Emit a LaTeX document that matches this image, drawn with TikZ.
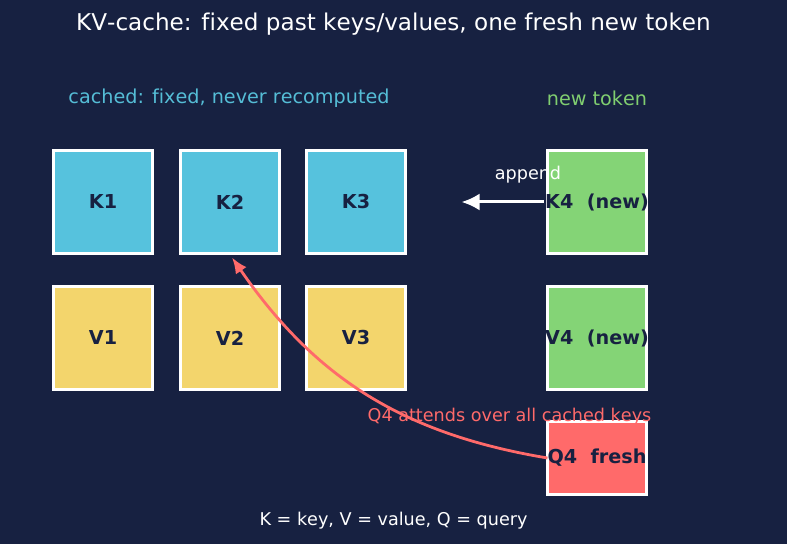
\documentclass[tikz,border=0pt]{standalone}
\usepackage{fontspec}
\setmainfont{DejaVu Sans}[Ligatures=NoCommon,Kerning=Off]
\usepackage{xcolor}
\usetikzlibrary{arrows.meta,positioning}
\definecolor{bgnavy}{HTML}{172141}
\definecolor{kfill}{HTML}{56C2DD}
\definecolor{vfill}{HTML}{F3D56C}
\definecolor{newfill}{HTML}{84D476}
\definecolor{qfill}{HTML}{FF6A6A}
\definecolor{boxtext}{HTML}{172141}
\definecolor{cachetxt}{HTML}{55BDD6}
\definecolor{newtxt}{HTML}{80CE70}

\begin{document}
\begin{tikzpicture}[x=1pt,y=1pt,node distance=28pt,
  bx/.style={draw=white,line width=2.2pt,minimum width=99pt,minimum height=103pt,
             inner sep=0pt,inner xsep=-6pt,outer sep=0pt,text=boxtext,
             font=\fontsize{19.2}{23}\selectfont\bfseries},
  hd/.style={font=\fontsize{19.2}{23}\selectfont},
  sm/.style={font=\fontsize{17.6}{21}\selectfont},
  e/.style={-{Latex[length=18pt,width=17pt]},white,line width=3pt},
  att/.style={-{Latex[length=16pt,width=13pt]},qfill,line width=2.8pt}]
  \fill[bgnavy] (0,0) rectangle (787,544);
  \node[text=white,font=\fontsize{23.1}{28}\selectfont] (title) at (393.5,520)
    {KV-cache: fixed past keys/values, one fresh new token};
  % cached keys / values
  \node[bx,fill=kfill] (k1) at (103,342) {K1};
  \node[bx,fill=kfill,right=of k1] (k2) {K2};
  \node[bx,fill=kfill,right=27pt of k2] (k3) {K3};
  \node[bx,fill=vfill,below=33pt of k1] (v1) {V1};
  \node[bx,fill=vfill,below=33pt of k2] (v2) {V2};
  \node[bx,fill=vfill,below=33pt of k3] (v3) {V3};
  % new token
  \node[bx,fill=newfill,right=142pt of k3] (k4) {K4\ \ (new)};
  \node[bx,fill=newfill,below=33pt of k4] (v4) {V4\ \ (new)};
  \node[bx,fill=qfill,minimum height=73pt,below=32pt of v4] (q4) {Q4\ \ fresh};
  \node[hd,text=cachetxt] (cap1) at (229,446) {cached: fixed, never recomputed};
  \node[hd,text=newtxt,above=41pt of k4] (cap2) {new token};
  \coordinate[right=56pt of k3] (ins);
  \draw[e] ([xshift=-4pt]k4.west) -- (ins);
  \node[sm,text=white] (app) at (528,369) {append};
  \draw[att] (q4.west) to[bend left=23] ([xshift=2pt,yshift=-4pt]k2.south);
  \node[sm,text=qfill] (attl) at (509.5,127) {Q4 attends over all cached keys};
  \node[sm,text=white] (foot) at (393.5,23) {K = key, V = value, Q = query};
\end{tikzpicture}
\end{document}
